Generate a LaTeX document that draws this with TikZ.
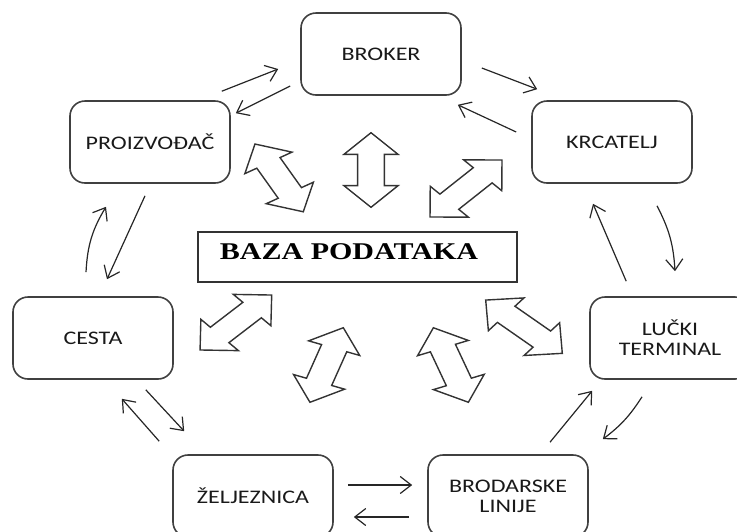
\documentclass[tikz,border=0pt]{standalone}
\usepackage{fontspec}
\setmainfont{Carlito}
\newfontfamily\boxfont[FakeStretch=1.25]{Carlito}
\newfontfamily\dbfont[FakeStretch=1.25]{Liberation Serif}
\usetikzlibrary{arrows.meta,shapes.arrows}
\tikzset{>={Straight Barb[length=5.5pt,width=8.5pt]}}

\begin{document}
\begin{tikzpicture}[x=0.5pt,y=-0.5pt,
  actor/.style={draw=black!75, line width=0.8pt, rounded corners=7.5pt,
    minimum width=80pt, minimum height=41pt, inner sep=0pt, align=center,
    font=\boxfont\fontsize{9.6}{10}\selectfont, text=black!90},
  dbbox/.style={draw=black!80, line width=0.7pt, minimum width=159.5pt,
    minimum height=25pt, inner sep=0pt, text depth=5.5pt,
    font=\dbfont\bfseries\fontsize{12}{13}\selectfont},
  link/.style={->, line width=0.6pt, draw=black!85},
  twoway/.style={double arrow, draw=black!80, line width=0.7pt,
    inner xsep=0pt, inner ysep=5pt, double arrow head extend=5.5pt,
    double arrow tip angle=90, minimum width=21pt}]

  \useasboundingbox (0,0) rectangle (737,531);

  \node[actor] (broker)   at (381,54)  {BROKER};
  \node[actor] (proizv)   at (150,142) {PROIZVOĐAČ};
  \node[actor] (krcatelj) at (612,142) {KRCATELJ};
  \node[actor] (cesta)    at (93,338)  {CESTA};
  \node[actor] (lucki)    at (670,338) {LUČKI\\TERMINAL};
  \node[actor] (zeljez)   at (253,496) {ŽELJEZNICA};
  \node[actor] (brod)     at (508,496) {BRODARSKE\\LINIJE};
  \node[dbbox] (baza)     at (357.5,257) {BAZA PODATAKA\kern8.5pt};

  % two-way arrows to the database, drawn unstretched
  \begin{scope}[xscale=1.25, every node/.append style={transform shape}]
    \node[twoway, rotate=-60.3, minimum height=39pt]   (dbl-proizv)   at (223.3,177.9) {};
    \node[twoway, rotate=90,    minimum height=37.3pt] (dbl-broker)   at (296.8,170)   {};
    \node[twoway, rotate=44.7,  minimum height=40.5pt] (dbl-krcatelj) at (372.8,188.5) {};
    \node[twoway, rotate=43.8,  minimum height=39.7pt] (dbl-cesta)    at (188.7,322.5) {};
    \node[twoway, rotate=70.3,  minimum height=39.6pt] (dbl-zeljez)   at (261.3,365)   {};
    \node[twoway, rotate=110.6, minimum height=39.8pt] (dbl-brod)     at (360.7,365)   {};
    \node[twoway, rotate=-41,   minimum height=40.6pt] (dbl-lucki)    at (419.2,326.7) {};
  \end{scope}

  \draw[link] ([shift={(-9,-9)}]proizv.north east) -- ([shift={(-22,15)}]broker.west); %% proizv->broker
  \draw[link] ([shift={(-10,32)}]broker.west) -- ([shift={(5,13)}]proizv.north east); %% broker->proizv
  \draw[link] ([shift={(20,14)}]broker.east) -- ([shift={(6,-11)}]krcatelj.north west); %% broker->krcatelj
  \draw[link] ([shift={(-15,-10)}]krcatelj.west) -- ([shift={(-4,9)}]broker.south east); %% krcatelj->broker

  \draw[link] ([shift={(45,22)}]krcatelj.south) to[bend left=12] ([shift={(5,-25)}]lucki.north); %% krcatelj->lucki
  \draw[link] ([shift={(37,-15)}]lucki.north west) -- ([shift={(-19,20)}]krcatelj.south); %% lucki->krcatelj

  \draw[link] ([shift={(-28,17)}]lucki.south) to[bend left=10] ([shift={(14,-15)}]brod.north east); %% lucki->brod
  \draw[link] ([shift={(42,-12)}]brod.north) -- ([shift={(3,11)}]lucki.south west); %% brod->lucki

  \draw[link] ([shift={(14,-11)}]zeljez.east) -- ([shift={(-15,-11)}]brod.west); %% zeljez->brod
  \draw[link] ([shift={(-18,21)}]brod.west) -- ([shift={(20,21)}]zeljez.east); %% brod->zeljez

  \draw[link] ([shift={(-28,10)}]cesta.south east) -- ([shift={(12,-23)}]zeljez.north west); %% cesta->zeljez
  \draw[link] ([shift={(-13,-13)}]zeljez.north west) -- ([shift={(-52,19)}]cesta.south east); %% zeljez->cesta

  \draw[link] ([shift={(-7,-24)}]cesta.north) to[bend left=14] ([shift={(-44,23)}]proizv.south); %% cesta->proizv
  \draw[link] ([shift={(-5,12)}]proizv.south) -- ([shift={(14,-17)}]cesta.north); %% proizv->cesta

\end{tikzpicture}
\end{document}
